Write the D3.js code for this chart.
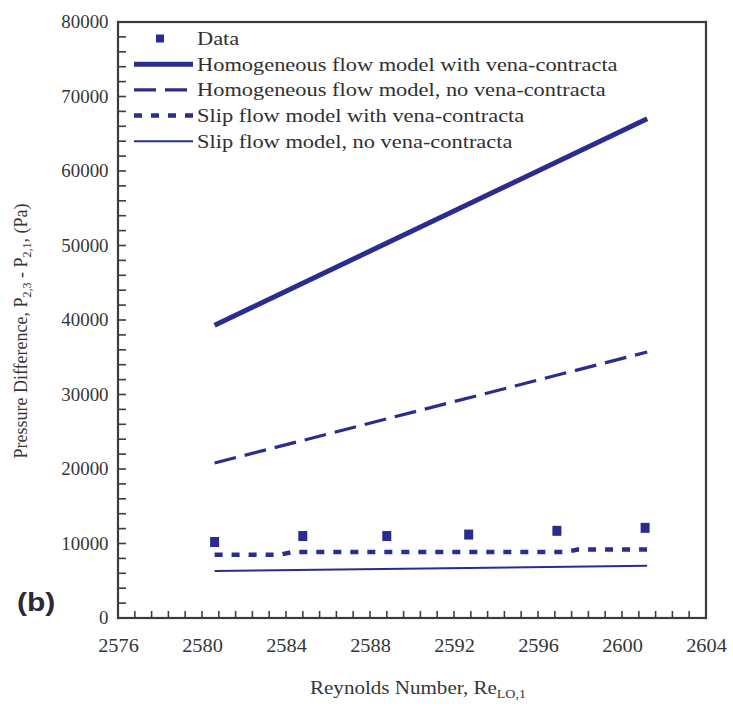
<!DOCTYPE html>
<html>
<head>
<meta charset="utf-8">
<script src="https://cdn.jsdelivr.net/npm/d3@7"></script>
<style>
  html, body { margin: 0; padding: 0; background: #fff; }
  svg { display: block; }
</style>
</head>
<body>
<svg id="chart" width="733" height="710"></svg>
<script>
// Reynolds number at each measured point and the measured pressure drop
const dataRe = [2580.6, 2584.8, 2588.8, 2592.7, 2596.9, 2601.1];
const dataDp = [10200, 11000, 11000, 11200, 11700, 12100];

// Model curves (Re, pressure difference)
const homoVcRe = [2580.6, 2601.2];
const homoVcDp = [39300, 67000];

const homoNoVcRe = [2580.6, 2601.2];
const homoNoVcDp = [20800, 35700];

const slipVcRe = [2580.6, 2583.7, 2584.3, 2597.3, 2597.9, 2601.2];
const slipVcDp = [8500, 8500, 8850, 8850, 9200, 9200];

const slipNoVcRe = [2580.6, 2601.2];
const slipNoVcDp = [6300, 7000];

const xTicks = [2576, 2580, 2584, 2588, 2592, 2596, 2600, 2604];
const yTicks = [0, 10000, 20000, 30000, 40000, 50000, 60000, 70000, 80000];

const legendLabels = [
  "Data",
  "Homogeneous flow model with vena-contracta",
  "Homogeneous flow model, no vena-contracta",
  "Slip flow model with vena-contracta",
  "Slip flow model, no vena-contracta"
];

const blue = "#2b2c8f";
const frame = "#3c3c3c";
const textCol = "#363636";
const serif = "'Liberation Serif', 'Times New Roman', serif";

const svg = d3.select("#chart");
const margin = { left: 118, top: 22, right: 27, bottom: 92 };
const W = 733, H = 710;
const x = d3.scaleLinear().domain([2576, 2604]).range([margin.left, W - margin.right]);
const y = d3.scaleLinear().domain([0, 80000]).range([H - margin.bottom, margin.top]);

// minor ticks pointing into the plot
const xMinor = d3.range(2576, 2604.001, 0.8);
const yMinor = d3.range(0, 80000.1, 2000);
svg.append("g").selectAll("line").data(xMinor.slice(1, -1)).join("line")
  .attr("x1", d => x(d)).attr("x2", d => x(d))
  .attr("y1", y(0)).attr("y2", y(0) - 7)
  .attr("stroke", frame).attr("stroke-width", 1.6);
svg.append("g").selectAll("line").data(yMinor.slice(1, -1)).join("line")
  .attr("x1", x(2576)).attr("x2", x(2576) + 8)
  .attr("y1", d => y(d)).attr("y2", d => y(d))
  .attr("stroke", frame).attr("stroke-width", 1.6);

// plot frame
svg.append("rect")
  .attr("x", x(2576)).attr("y", y(80000))
  .attr("width", x(2604) - x(2576)).attr("height", y(0) - y(80000))
  .attr("fill", "none").attr("stroke", frame).attr("stroke-width", 2.2);

// tick labels (slightly wide type)
const xAxis = d3.axisBottom(x).tickValues(xTicks).tickSize(0).tickPadding(21).tickFormat(d3.format("d"));
const gx = svg.append("g").attr("transform", `translate(0,${y(0)})`).call(xAxis);
gx.select(".domain").remove();
gx.selectAll("text").attr("font-family", serif).attr("font-size", 18).attr("fill", textCol)
  .attr("transform", "scale(1.13,1)");

const yAxis = d3.axisLeft(y).tickValues(yTicks).tickSize(0).tickPadding(9).tickFormat(d3.format("d"));
const gy = svg.append("g").attr("transform", `translate(${x(2576)},0)`).call(yAxis);
gy.select(".domain").remove();
gy.selectAll("text").attr("font-family", serif).attr("font-size", 18).attr("fill", textCol)
  .attr("transform", "scale(1.05,1)");

// model lines
const line = d3.line().x(d => x(d[0])).y(d => y(d[1]));
const zip = (a, b) => a.map((v, i) => [v, b[i]]);

const series = [
  { re: homoVcRe, dp: homoVcDp, width: 5, dash: null },
  { re: homoNoVcRe, dp: homoNoVcDp, width: 3.2, dash: "22,9" },
  { re: slipVcRe, dp: slipVcDp, width: 4.5, dash: "8,9" },
  { re: slipNoVcRe, dp: slipNoVcDp, width: 2, dash: null }
];
svg.append("g").selectAll("path").data(series).join("path")
  .attr("d", s => line(zip(s.re, s.dp)))
  .attr("fill", "none").attr("stroke", blue)
  .attr("stroke-width", s => s.width)
  .attr("stroke-dasharray", s => s.dash)
  .attr("stroke-linecap", "butt");

// measured points
svg.append("g").selectAll("rect").data(zip(dataRe, dataDp)).join("rect")
  .attr("x", d => x(d[0]) - 4.5).attr("y", d => y(d[1]) - 5)
  .attr("width", 9).attr("height", 10).attr("fill", blue);

// legend
const lg = svg.append("g");
const rowY = i => 38.5 + i * 25.7;
lg.append("rect").attr("x", 156).attr("y", rowY(0) - 4).attr("width", 8).attr("height", 8).attr("fill", blue);
series.forEach((s, i) => {
  lg.append("line")
    .attr("x1", 134).attr("x2", 193)
    .attr("y1", rowY(i + 1)).attr("y2", rowY(i + 1))
    .attr("stroke", blue).attr("stroke-width", s.width)
    .attr("stroke-dasharray", s.dash);
});
lg.selectAll("g.entry").data(legendLabels).join("g")
  .attr("class", "entry")
  .attr("transform", (d, i) => `translate(197,${rowY(i) + 6.5}) scale(1.18,1)`)
  .append("text")
  .attr("font-family", serif).attr("font-size", 19).attr("fill", "#303030")
  .text(d => d);

// axis titles
const xt = svg.append("g").attr("transform", "translate(418,694) scale(1.17,1)")
  .append("text").attr("text-anchor", "middle")
  .attr("font-family", serif).attr("font-size", 18).attr("fill", textCol);
xt.append("tspan").text("Reynolds Number, Re");
xt.append("tspan").attr("font-size", 12).attr("dy", 4).text("LO,1");

const yt = svg.append("text")
  .attr("transform", "translate(27,331) rotate(-90)")
  .attr("text-anchor", "middle").attr("font-family", serif).attr("font-size", 18).attr("fill", textCol);
yt.append("tspan").text("Pressure Difference, P");
yt.append("tspan").attr("font-size", 12).attr("dy", 4).text("2,3");
yt.append("tspan").attr("dy", -4).text(" - P");
yt.append("tspan").attr("font-size", 12).attr("dy", 4).text("2,1");
yt.append("tspan").attr("dy", -4).text(", (Pa)");

// panel tag
svg.append("g").attr("transform", "translate(17,611) scale(1.2,1)")
  .append("text")
  .attr("font-family", "'Liberation Sans', Arial, sans-serif").attr("font-weight", "bold")
  .attr("font-size", 25).attr("fill", "#2a2a3a").text("(b)");
</script>
</body>
</html>
